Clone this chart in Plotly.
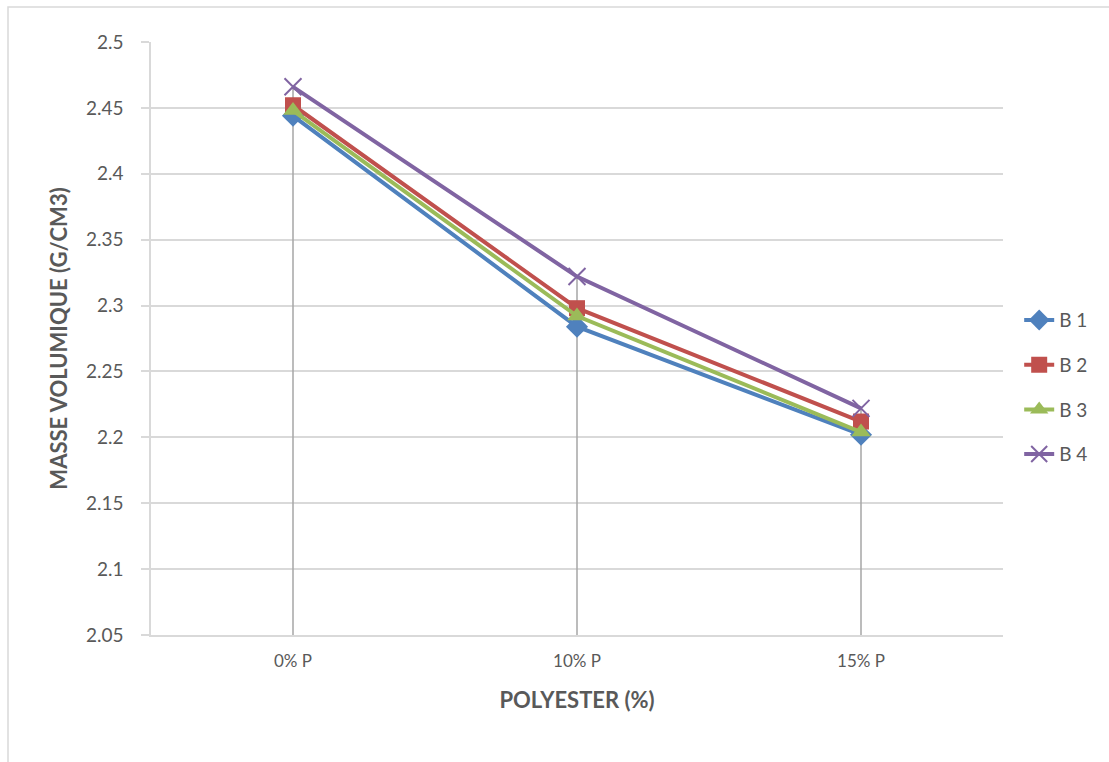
import plotly.graph_objects as go

categories = ["0% P", "10% P", "15% P"]
series_names = ["B 1", "B 2", "B 3", "B 4"]
b1 = [2.444, 2.284, 2.202]
b2 = [2.452, 2.298, 2.212]
b3 = [2.448, 2.292, 2.204]
b4 = [2.466, 2.322, 2.222]
y_min, y_max, y_step = 2.05, 2.5, 0.05

colors = ["#4F81BD", "#C0504D", "#9BBB59", "#8064A2"]
symbols = ["diamond", "square", "triangle-up", "x-thin"]
sizes = [17, 16, 17, 17]
all_series = [b1, b2, b3, b4]

fig = go.Figure()

# drop lines from highest point to axis
drop_x, drop_y = [], []
for i, c in enumerate(categories):
    top = max(s[i] for s in all_series)
    drop_x += [c, c, None]
    drop_y += [y_min, top, None]
fig.add_trace(go.Scatter(x=drop_x, y=drop_y, mode="lines",
                         line=dict(color="#A6A6A6", width=1.5),
                         showlegend=False, hoverinfo="skip"))

for name, vals, col, sym, sz in zip(series_names, all_series, colors, symbols, sizes):
    marker = dict(symbol=sym, size=sz, color=col)
    if sym == "x-thin":
        marker["line"] = dict(width=2, color=col)
    fig.add_trace(go.Scatter(x=categories, y=vals, name=name, mode="lines+markers",
                             line=dict(color=col, width=4), marker=marker,
                             legendgroup=name))

tick_vals = [round(y_min + i * y_step, 2) for i in range(int(round((y_max - y_min) / y_step)) + 1)]
tick_text = [("%g" % v) for v in tick_vals]

font_fam = "Lato, 'Open Sans', sans-serif"
fig.update_layout(
    width=1109, height=762,
    margin=dict(l=151, r=106, t=42, b=127),
    paper_bgcolor="white", plot_bgcolor="white",
    font=dict(family=font_fam, color="#595959"),
    legend=dict(x=1.019, xanchor="left", y=0.418, yanchor="middle",
                font=dict(size=19, color="#595959"),
                tracegroupgap=17, traceorder="grouped",
                bgcolor="rgba(0,0,0,0)"),
    shapes=[dict(type="rect", xref="paper", yref="paper",
                 x0=(8 - 151) / 852, x1=1.3, y0=-0.4, y1=(635 - 7) / 593,
                 line=dict(color="#D9D9D9", width=1.5), layer="below")],
)
fig.update_xaxes(type="category", range=[-0.5, 2.5],
                 showline=True, linecolor="#D9D9D9", linewidth=1.5,
                 showgrid=False, ticks="", ticklabelstandoff=10,
                 tickfont=dict(size=17, color="#595959"),
                 title=dict(text="<b>POLYESTER (%)</b>", font=dict(size=22, color="#595959"), standoff=22))
fig.update_yaxes(range=[y_min, y_max], tickvals=tick_vals, ticktext=tick_text,
                 showline=True, linecolor="#D9D9D9", linewidth=1.5,
                 showgrid=True, gridcolor="#D9D9D9", gridwidth=1.5,
                 ticks="outside", ticklen=8, tickcolor="#D9D9D9", tickwidth=1.5,
                 ticklabelstandoff=14, zeroline=False,
                 tickfont=dict(size=19, color="#595959"),
                 title=dict(text="<b>MASSE VOLUMIQUE (G/CM3)</b>", font=dict(size=22, color="#595959"), standoff=12))

fig.write_html("out.html")
